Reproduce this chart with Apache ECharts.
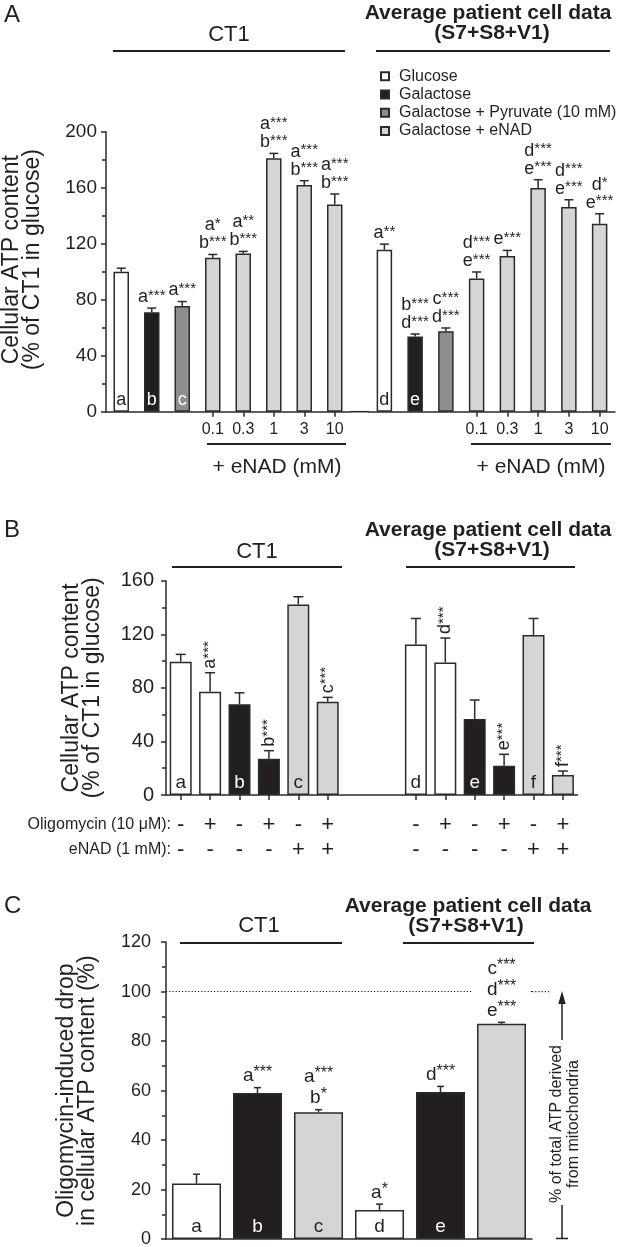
<!DOCTYPE html>
<html><head><meta charset="utf-8">
<script src="https://cdn.jsdelivr.net/npm/echarts@6/dist/echarts.min.js"></script>
<style>html,body{margin:0;padding:0;background:#fff}#c{width:625px;height:1247px}</style>
</head><body><div id="c"></div>
<script>
const FONT = "'Liberation Sans', Arial, Helvetica, sans-serif";
const INK = '#231f20', AX = '#2b2b2b';

const treatments = ['Glucose', 'Galactose', 'Galactose + Pyruvate (10 mM)', 'Galactose + eNAD'];
const treatmentColors = ['#ffffff', '#231f20', '#8d8e90', '#d4d5d7'];
const letterColors = [INK, '#ffffff', '#ffffff', INK];

// ---------- Panel A ----------
const aDoseLabels = ['', '', '', '0.1', '0.3', '1', '3', '10'];
const aTypes = [0, 1, 2, 3, 3, 3, 3, 3];
const aValuesCT1 = [100, 71, 75.5, 110, 113, 181, 162, 148];
const aSemCT1 = [2.5, 3, 3.2, 2.3, 1.5, 3.5, 3, 7.5];
const aValuesPat = [115.7, 53.8, 57.4, 95.2, 111.2, 159.8, 146.2, 134.3];
const aSemPat = [4, 1.7, 2.4, 4.6, 4, 5.9, 5.2, 7.1];
const aLettersCT1 = ['a', 'b', 'c', '', '', '', '', ''];
const aLettersPat = ['d', 'e', '', '', '', '', '', ''];
const aSigCT1 = ['', 'a***', 'a***', 'a*\nb***', 'a**\nb***', 'a***\nb***', 'a***\nb***', 'a***\nb***'];
const aSigPat = ['a**', 'b***\nd***', 'c***\nd***', 'd***\ne***', 'e***', 'd***\ne***', 'd***\ne***', 'd*\ne***'];
const aYMax = 200, aYStep = 40;

// ---------- Panel B ----------
const bOligomycin = ['-', '+', '-', '+', '-', '+'];
const bENAD = ['-', '-', '-', '-', '+', '+'];
const bTypes = [0, 0, 1, 1, 3, 3];
const bValuesCT1 = [99.5, 77, 67.7, 27, 142.3, 69.6];
const bSemCT1 = [5.5, 14.3, 8.6, 6.1, 5.7, 3.3];
const bValuesPat = [112.4, 99, 56.7, 21.9, 119.4, 14.9];
const bSemPat = [19.4, 18.2, 14.2, 8.5, 12.4, 3];
const bLettersCT1 = ['a', '', 'b', '', 'c', ''];
const bLettersPat = ['d', '', 'e', '', 'f', ''];
const bSigCT1 = ['', 'a***', '', 'b***', '', 'c***'];
const bSigPat = ['', 'd***', '', 'e***', '', 'f***'];
const bGapSlots = 2;
const bYMax = 160, bYStep = 40;

// ---------- Panel C ----------
const cCategories = ['CT1 glucose', 'CT1 galactose', 'CT1 galactose + eNAD', 'Patients glucose', 'Patients galactose', 'Patients galactose + eNAD'];
const cTypes = [0, 1, 3, 0, 1, 3];
const cValues = [22.4, 59, 51.2, 11.7, 59.4, 87];
const cSem = [3.8, 2.2, 1.1, 2.4, 2.3, 0.6];
const cLetters = ['a', 'b', 'c', 'd', 'e', ''];
const cSig = ['', 'a***', 'a***\nb*', 'a*', 'd***', 'c***\nd***\ne***'];
const cReference = 100;
const cYMax = 120, cYStep = 20;

// ---------- helpers ----------
function richify(s) {
  return s.split('\n').map(line => {
    const m = line.match(/^([^*]*)(\**)$/);
    return '{l|' + m[1] + '}' + (m[2] ? '{s|' + m[2] + '}' : '');
  }).join('\n');
}
function richStyles(main, star, lh) {
  return {
    l: { fontSize: main, lineHeight: lh, verticalAlign: 'bottom', fontFamily: FONT, fill: INK },
    s: { fontSize: star, lineHeight: star, verticalAlign: 'top', fontFamily: FONT, fill: INK }
  };
}
function barSeries(types, values, letters, axisIndex, cfg) {
  const used = [...new Set(types.filter(t => t != null))];
  return used.map(t => ({
    type: 'bar', name: treatments[t], xAxisIndex: axisIndex, yAxisIndex: axisIndex,
    data: values.map((v, i) => (types[i] === t && v != null) ? v : '-'),
    barWidth: cfg.barWidth, barGap: '-100%', silent: true,
    itemStyle: { color: treatmentColors[t], borderColor: AX, borderWidth: 1.5 },
    label: { show: true, position: 'insideBottom', distance: cfg.letterDist,
      formatter: p => letters[p.dataIndex] || '', color: letterColors[t],
      fontSize: cfg.letterSize, fontFamily: FONT },
    emphasis: { disabled: true }
  }));
}
function errSeries(values, sems, sigs, axisIndex, cfg) {
  const data = [], sigList = [];
  values.forEach((v, i) => { if (v == null) return; data.push([i, v, v + sems[i]]); sigList.push(sigs[i] || ''); });
  return {
    type: 'custom', xAxisIndex: axisIndex, yAxisIndex: axisIndex, z: 5, silent: true,
    encode: { x: 0, y: [1, 2] }, data,
    renderItem: (params, api) => {
      const i = api.value(0), v = api.value(1), e = api.value(2);
      const p0 = api.coord([i, v]), p1 = api.coord([i, e]);
      const x = p0[0];
      const ls = { stroke: AX, lineWidth: 1.5 };
      const ch = [
        { type: 'line', shape: { x1: x, y1: p0[1], x2: x, y2: p1[1] }, style: ls },
        { type: 'line', shape: { x1: x - cfg.cap / 2, y1: p1[1], x2: x + cfg.cap / 2, y2: p1[1] }, style: ls }
      ];
      const s = sigList[params.dataIndex];
      if (s) {
        const st = { text: richify(s), rich: cfg.rich, fill: INK, fontFamily: FONT,
          align: cfg.rotate ? 'left' : 'center', verticalAlign: cfg.rotate ? 'middle' : 'bottom' };
        if (cfg.bgIndex === params.dataIndex) { st.backgroundColor = '#fff'; st.padding = [0, 14]; }
        ch.push({ type: 'text', x: x, y: p1[1] - cfg.gap, rotation: cfg.rotate ? Math.PI / 2 : 0, style: st });
      }
      return { type: 'group', children: ch };
    }
  };
}
function yAxisCfg(idx, max, step, name, nameGap, labelSize, margin, show, namePad) {
  return {
    type: 'value', gridIndex: idx, min: 0, max, interval: step, show,
    name, nameLocation: 'middle', nameGap,
    nameTextStyle: { fontSize: 23, lineHeight: 21, fontFamily: FONT, color: INK, padding: namePad || 0 },
    axisLine: { show: true, lineStyle: { color: AX, width: 1.5 } },
    axisTick: { show: true, length: 5, lineStyle: { color: AX, width: 1.5 } },
    minorTick: { show: true, splitNumber: 2, length: 4, lineStyle: { color: AX, width: 1.5 } },
    axisLabel: { fontSize: labelSize, color: INK, fontFamily: FONT, margin },
    splitLine: { show: false }, minorSplitLine: { show: false }
  };
}
function xAxisCfg(idx, data, labelCfg, tickShow) {
  return {
    type: 'category', gridIndex: idx, data,
    axisLine: { show: true, onZero: false, lineStyle: { color: AX, width: 1.5 } },
    axisTick: { show: tickShow, alignWithLabel: true, length: 5, interval: (i, v) => v !== '', lineStyle: { color: AX, width: 1.5 } },
    axisLabel: Object.assign({ interval: 0, color: INK, fontFamily: FONT }, labelCfg),
    splitLine: { show: false }
  };
}

// ---------- assemble B ----------
const gap = Array(bGapSlots).fill(null);
const gapStr = Array(bGapSlots).fill('');
const bConditionLabels = bOligomycin.map((o, i) => o + '\n' + bENAD[i]);
const bCategories = [...bConditionLabels, ...gapStr, ...bConditionLabels];
const bTypesAll = [...bTypes, ...gap, ...bTypes];
const bValuesAll = [...bValuesCT1, ...gap, ...bValuesPat];
const bSemAll = [...bSemCT1, ...gap, ...bSemPat];
const bLettersAll = [...bLettersCT1, ...gapStr, ...bLettersPat];
const bSigAll = [...bSigCT1, ...gapStr, ...bSigPat];

const cfgA = { barWidth: 15.5, letterSize: 18, letterDist: 3, cap: 9, gap: 2, rich: richStyles(18, 15, 18) };
const cfgB = { barWidth: 22, letterSize: 19, letterDist: 3, cap: 10, gap: 4, rotate: true, rich: richStyles(18, 15, 18) };
const cfgC = { barWidth: 49, letterSize: 19, letterDist: 3, cap: 7, gap: 2, rich: richStyles(19, 16, 21), bgIndex: 5 };

const cBars = barSeries(cTypes, cValues, cLetters, 3, cfgC);
cBars[0].markLine = { silent: true, symbol: ['none', 'none'], label: { show: false },
  lineStyle: { type: [1.2, 2], color: INK, width: 1.2 }, data: [{ yAxis: cReference }] };

const series = [
  ...barSeries(aTypes, aValuesCT1, aLettersCT1, 0, cfgA),
  ...barSeries(aTypes, aValuesPat, aLettersPat, 1, cfgA),
  errSeries(aValuesCT1, aSemCT1, aSigCT1, 0, cfgA),
  errSeries(aValuesPat, aSemPat, aSigPat, 1, cfgA),
  ...barSeries(bTypesAll, bValuesAll, bLettersAll, 2, cfgB),
  errSeries(bValuesAll, bSemAll, bSigAll, 2, cfgB),
  ...cBars,
  errSeries(cValues, cSem, cSig, 3, cfgC)
];

function txt(t, x, y, size, opts) {
  opts = opts || {};
  const align = opts.align || 'center';
  return { type: 'text', x, y, rotation: opts.rotation || 0, silent: true,
    style: { text: t, fill: INK, font: (opts.bold ? 'bold ' : '') + size + 'px ' + FONT,
      textAlign: align, align: align, textVerticalAlign: 'middle', verticalAlign: 'middle', lineHeight: opts.lh } };
}
function ln(x1, y1, x2, y2, w, dash) {
  return { type: 'line', silent: true, shape: { x1, y1, x2, y2 }, style: { stroke: INK, lineWidth: w || 2, lineDash: dash } };
}

const graphics = [
  // Panel A
  txt('A', 4, 15, 24, { align: 'left' }),
  txt('CT1', 229, 35, 22),
  txt('Average patient cell data', 488, 13, 21, { bold: true }),
  txt('(S7+S8+V1)', 492, 33.5, 21, { bold: true }),
  ln(113, 51, 345, 51), ln(376, 51, 610, 51),
  ln(350, 411.7, 369, 411.7, 1.5),
  ln(207, 444, 346, 444), ln(471, 444, 611, 444),
  txt('+ eNAD (mM)', 277, 467, 21), txt('+ eNAD (mM)', 541, 467, 21),
  // Panel B
  txt('B', 4, 530, 24, { align: 'left' }),
  txt('CT1', 257, 552, 22),
  txt('Average patient cell data', 488, 530, 21, { bold: true }),
  txt('(S7+S8+V1)', 492, 550, 21, { bold: true }),
  ln(172, 567, 342, 567), ln(406, 567, 575, 567),
  txt('Oligomycin (10 μM):', 171, 825, 16, { align: 'right' }),
  txt('eNAD (1 mM):', 171, 850, 16, { align: 'right' }),
  // Panel C
  txt('C', 4, 906, 24, { align: 'left' }),
  txt('CT1', 259, 926, 22),
  txt('Average patient cell data', 468, 906, 21, { bold: true }),
  txt('(S7+S8+V1)', 466, 926, 21, { bold: true }),
  ln(180, 943, 342, 943), ln(403, 943, 534, 943),
  ln(532, 991.7, 551, 991.7, 1.2, [1.2, 2]),
  ln(562, 1239, 562, 1205, 1.5), ln(556, 1238.5, 568, 1238.5, 1.5),
  ln(562, 1040, 562, 1001, 1.5),
  { type: 'polygon', silent: true, shape: { points: [[558.3, 1004], [565.7, 1004], [562, 991]] }, style: { fill: INK } },
  txt('% of total ATP derived\nfrom mitochondria', 565, 1124, 16, { rotation: Math.PI / 2, lh: 17 })
];

const option = {
  animation: false,
  textStyle: { fontFamily: FONT },
  legend: { orient: 'vertical', left: 375, top: 62, itemWidth: 8, itemHeight: 8, itemGap: 0,
    icon: 'rect', selectedMode: false, data: treatments,
    textStyle: { fontSize: 16, lineHeight: 18.3, color: INK, fontFamily: FONT, padding: [0, 0, 0, 5] } },
  grid: [
    { left: 106, top: 131.7, width: 244, height: 280, containLabel: false, outerBoundsMode: 'none' },
    { left: 369, top: 131.7, width: 246, height: 280, containLabel: false, outerBoundsMode: 'none' },
    { left: 166, top: 580.7, width: 411.6, height: 214.3, containLabel: false, outerBoundsMode: 'none' },
    { left: 166, top: 942.2, width: 366, height: 296.8, containLabel: false, outerBoundsMode: 'none' }
  ],
  xAxis: [
    xAxisCfg(0, aDoseLabels, { fontSize: 16, margin: 10 }, true),
    xAxisCfg(1, aDoseLabels, { fontSize: 16, margin: 10 }, true),
    xAxisCfg(2, bCategories, { fontSize: 22, lineHeight: 25, margin: 17 }, true),
    xAxisCfg(3, cCategories, { show: false }, false)
  ],
  yAxis: [
    yAxisCfg(0, aYMax, aYStep, 'Cellular ATP content\n(% of CT1 in glucose)', 63, 19, 9, true, [0, 0, 0, 24]),
    yAxisCfg(1, aYMax, aYStep, '', 0, 19, 9, false),
    yAxisCfg(2, bYMax, bYStep, 'Cellular ATP content\n(% of CT1 in glucose)', 63, 20, 12, true),
    yAxisCfg(3, cYMax, cYStep, 'Oligomycin-induced drop\nin cellular ATP content (%)', 68, 18, 15, true)
  ],
  graphic: graphics,
  series
};
const chart = echarts.init(document.getElementById('c'), null, { renderer: 'canvas' });
chart.setOption(option);
</script></body></html>
